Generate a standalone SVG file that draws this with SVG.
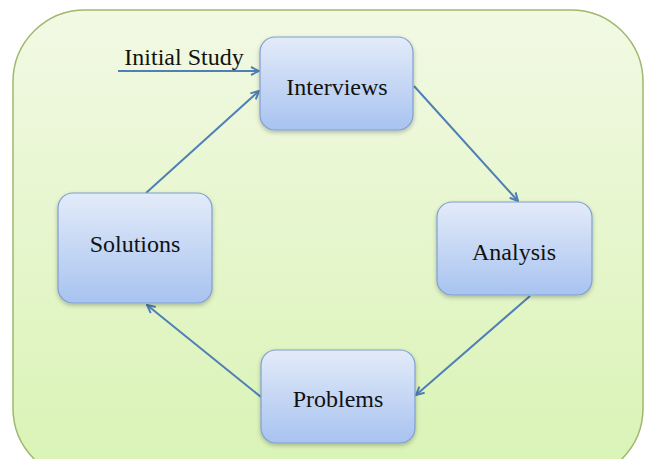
<svg xmlns="http://www.w3.org/2000/svg" width="645" height="459" viewBox="0 0 645 459">
  <defs>
    <linearGradient id="bgGrad" x1="0" y1="0" x2="0" y2="1">
      <stop offset="0" stop-color="#f2f9e4"/>
      <stop offset="1" stop-color="#d9f3b4"/>
    </linearGradient>
    <linearGradient id="boxGrad" x1="0" y1="0" x2="0" y2="1">
      <stop offset="0" stop-color="#e3ebf9"/>
      <stop offset="1" stop-color="#a8c3f0"/>
    </linearGradient>
    <filter id="shadow" x="-20%" y="-20%" width="140%" height="140%">
      <feDropShadow dx="0" dy="2" stdDeviation="2" flood-color="#000" flood-opacity="0.25"/>
    </filter>
    <marker id="arrow" viewBox="0 0 10 10" refX="9" refY="5" markerWidth="5" markerHeight="5" orient="auto">
      <path d="M1,1 L9,5 L1,9" fill="none" stroke="#4f7fb5" stroke-width="2"/>
    </marker>
    <style>
      .box { fill: url(#boxGrad); stroke: #7f9fcf; stroke-width: 1.2; filter: url(#shadow); }
      .label { font-family: "Liberation Serif", serif; font-size: 24px; fill: #111; text-anchor: middle; }
      .edge { stroke: #4f7fb5; stroke-width: 2; fill: none; marker-end: url(#arrow); }
    </style>
  </defs>

  <!-- background panel -->
  <rect x="13" y="10" width="630" height="470" rx="72" ry="72" fill="url(#bgGrad)" stroke="#9fb86e" stroke-width="1.5"/>

  <!-- connectors -->
  <g id="connectors">
    <line class="edge" x1="118" y1="71" x2="259" y2="71"/>
    <line class="edge" x1="146" y1="193" x2="259" y2="91"/>
    <line class="edge" x1="414" y1="86" x2="518" y2="201"/>
    <line class="edge" x1="530" y1="296" x2="416" y2="395"/>
    <line class="edge" x1="261" y1="397" x2="147" y2="305"/>
  </g>
  <text class="label" x="184" y="65">Initial Study</text>

  <g id="interviews">
    <rect class="box" x="260" y="37" width="153" height="93" rx="15"/>
    <text class="label" x="337" y="95">Interviews</text>
  </g>
  <g id="analysis">
    <rect class="box" x="437" y="202" width="155" height="93" rx="15"/>
    <text class="label" x="514" y="260">Analysis</text>
  </g>
  <g id="problems">
    <rect class="box" x="261" y="350" width="154" height="93" rx="15"/>
    <text class="label" x="338" y="407">Problems</text>
  </g>
  <g id="solutions">
    <rect class="box" x="58" y="193" width="154" height="110" rx="15"/>
    <text class="label" x="135" y="252">Solutions</text>
  </g>
</svg>
